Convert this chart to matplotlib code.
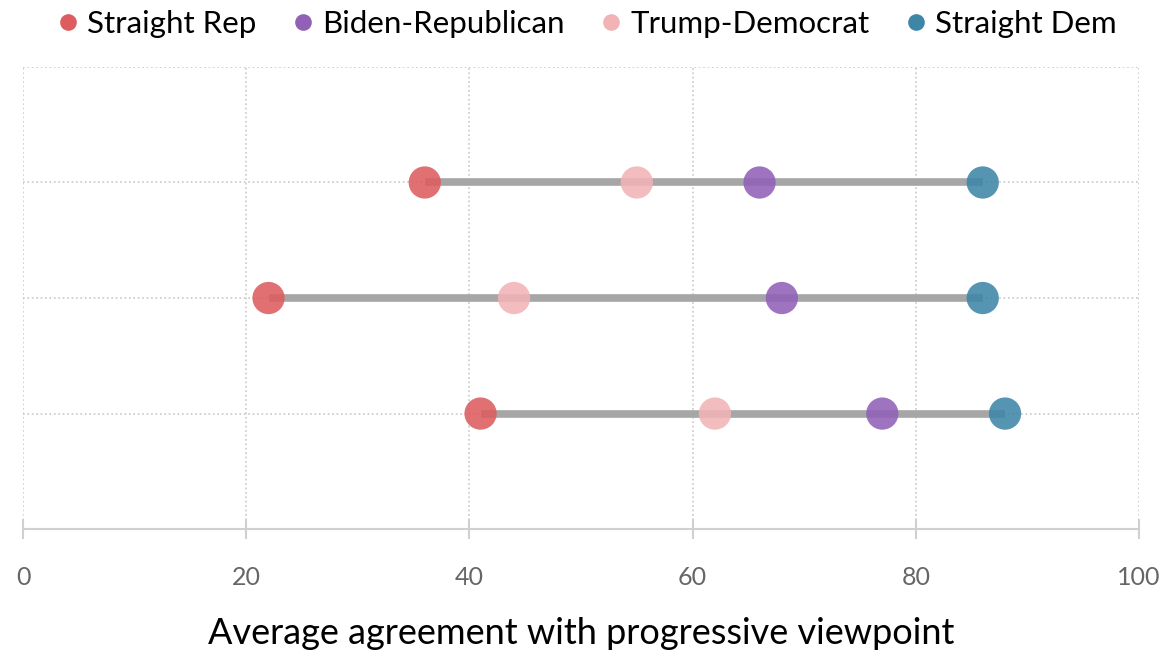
import matplotlib
matplotlib.use("Agg")
import matplotlib.pyplot as plt
from matplotlib.lines import Line2D

plt.rcParams['font.family'] = ['Lato', 'DejaVu Sans']

# 数据（从上到下三行）
rows = [3, 2, 1]
straight_rep = [36, 22, 41]
biden_rep = [66, 68, 77]
trump_dem = [55, 44, 62]
straight_dem = [86, 86, 88]

series = ["Straight Rep", "Biden-Republican", "Trump-Democrat", "Straight Dem"]
colors = ["#dd5c60", "#9161b8", "#f2b3b5", "#3d86a8"]
x_ticks = [0, 20, 40, 60, 80, 100]

fig = plt.figure(figsize=(11.69, 6.5), dpi=100)
ax = fig.add_axes([0.0197, 0.186, 0.9546, 0.711])

# 灰色连线
for y, lo, hi in zip(rows, straight_rep, straight_dem):
    ax.plot([lo, hi], [y, y], color="#a6a6a6", linewidth=5.5,
            solid_capstyle="butt", zorder=2)

# 各组圆点
values = [straight_rep, biden_rep, trump_dem, straight_dem]
for vals, c in zip(values, colors):
    ax.scatter(vals, rows, s=540, color=c, alpha=0.88, edgecolors="none", zorder=3)

ax.set_xlim(0, 100)
ax.set_ylim(0, 4)
ax.set_xticks(x_ticks)
ax.set_yticks([1, 2, 3, 4])
ax.set_yticklabels([])
ax.tick_params(axis="y", length=0)
ax.tick_params(axis="x", direction="inout", length=15, width=1.5, color="#d0d0d0",
               labelsize=18, labelcolor="#666666", pad=19)

ax.grid(True, linestyle=":", color="#c8c8c8", linewidth=1.2)
ax.set_axisbelow(True)
for side in ["top", "right", "left"]:
    ax.spines[side].set_visible(False)
ax.spines["bottom"].set_color("#d0d0d0")
ax.spines["bottom"].set_linewidth(1.5)

ax.set_xlabel("Average agreement with progressive viewpoint", fontsize=26,
              color="black", labelpad=20)

# 图例
handles = [Line2D([0], [0], marker="o", linestyle="none", markersize=12,
                  markerfacecolor=c, markeredgecolor="none") for c in colors]
fig.legend(handles, series, loc="upper center", bbox_to_anchor=(0.5, 1.028), ncol=4,
           frameon=False, fontsize=22.5, handletextpad=0.1, columnspacing=1.0,
           handlelength=1.0)

fig.savefig("out.png", dpi=100)
